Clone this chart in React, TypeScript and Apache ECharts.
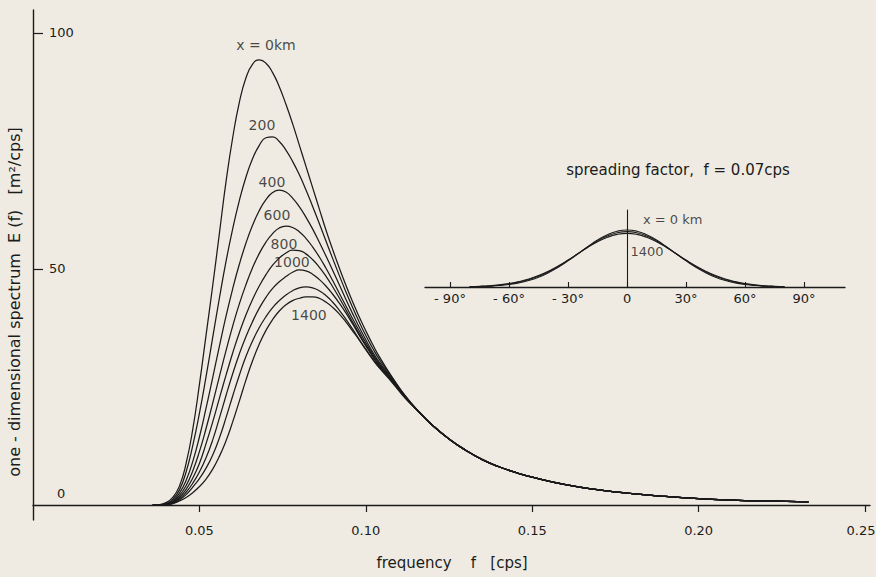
import React, { useEffect, useRef } from 'react';
import * as echarts from 'echarts';

// ---- main chart data: frequency [cps] vs E(f) [m^2/cps] ----
const FREQ_PEAK = [
  0.036, 0.038, 0.040, 0.042, 0.044, 0.046, 0.048, 0.050, 0.052, 0.054, 0.056, 0.058,
  0.060, 0.062, 0.064, 0.066, 0.068, 0.070, 0.072, 0.074, 0.076, 0.078, 0.080, 0.082,
  0.084, 0.086, 0.088, 0.090, 0.092, 0.094, 0.096, 0.098, 0.100, 0.102, 0.104, 0.108, 0.112,
];
const FREQ_TAIL = [
  0.116, 0.120, 0.125, 0.130, 0.135, 0.140, 0.145, 0.150, 0.160, 0.170,
  0.180, 0.190, 0.200, 0.210, 0.220, 0.233,
];
const E_TAIL = [19.7, 16.9, 14.0, 11.6, 9.6, 8.1, 6.9, 5.9, 4.3, 3.2, 2.4, 1.8, 1.35, 1.05, 0.85, 0.65];

const E_X0 = [0, 0.1, 0.5, 1.6, 4.0, 8.8, 16.0, 25.5, 36.0, 46.5, 57.5, 68.5, 77.8, 85.3, 90.5, 93.4, 94.3, 93.6, 91.6, 88.6, 84.9, 80.8, 76.3, 71.8, 67.3, 62.8, 58.3, 54.2, 50.3, 46.6, 43.1, 39.9, 36.9, 34.1, 31.5, 27.0, 23.0];
const E_X200 = [0, 0.05, 0.3, 1.2, 3.2, 7.0, 12.6, 19.4, 27.2, 35.5, 43.8, 51.6, 58.5, 64.5, 69.5, 73.4, 76.2, 77.8, 78.0, 77.0, 75.2, 72.8, 70.0, 66.8, 63.3, 59.7, 56.0, 52.3, 48.7, 45.2, 41.9, 38.8, 35.9, 33.3, 30.9, 26.9, 22.95];
const E_X400 = [0, 0, 0.2, 0.9, 2.5, 5.2, 9.2, 14.4, 20.5, 27.0, 33.6, 40.0, 45.8, 51.0, 55.5, 59.3, 62.4, 64.7, 66.2, 66.7, 66.3, 65.0, 63.2, 61.0, 58.5, 55.7, 52.8, 49.8, 46.7, 43.6, 40.6, 37.7, 35.0, 32.5, 30.3, 26.7, 22.9];
const E_X600 = [0, 0, 0.15, 0.7, 2.0, 4.1, 7.2, 11.3, 16.2, 21.6, 27.2, 32.7, 37.9, 42.6, 46.7, 50.3, 53.3, 55.7, 57.5, 58.7, 59.1, 58.8, 57.9, 56.5, 54.7, 52.6, 50.2, 47.6, 44.9, 42.2, 39.5, 36.9, 34.4, 32.1, 30.0, 26.5, 22.85];
const E_X800 = [0, 0, 0.1, 0.55, 1.6, 3.3, 5.7, 8.8, 13.0, 17.6, 22.6, 27.5, 32.2, 36.5, 40.3, 43.6, 46.4, 48.8, 50.8, 52.3, 53.4, 54.0, 53.9, 53.2, 52.0, 50.4, 48.5, 46.3, 43.9, 41.4, 38.8, 36.3, 33.9, 31.7, 29.7, 26.3, 22.8];
const E_X1000 = [0, 0, 0.08, 0.45, 1.3, 2.7, 4.6, 7.0, 10.0, 13.8, 18.4, 23.2, 27.8, 32.0, 35.7, 38.9, 41.7, 44.0, 45.9, 47.3, 48.4, 49.3, 49.8, 49.6, 48.9, 47.8, 46.4, 44.7, 42.8, 40.7, 38.4, 36.0, 33.7, 31.5, 29.5, 26.2, 22.7];
const E_X1200 = [0, 0, 0.06, 0.35, 1.05, 2.2, 3.8, 5.6, 7.8, 10.6, 14.2, 18.5, 23.1, 27.5, 31.5, 34.8, 37.6, 39.9, 41.8, 43.3, 44.5, 45.4, 46.0, 46.2, 46.0, 45.4, 44.4, 43.0, 41.3, 39.4, 37.3, 35.1, 33.0, 31.0, 29.2, 26.0, 22.6];
const E_X1400 = [0, 0, 0.05, 0.3, 0.85, 1.6, 2.6, 3.9, 5.5, 7.6, 10.3, 13.6, 17.6, 22.0, 26.5, 30.6, 34.1, 37.0, 39.3, 41.1, 42.4, 43.3, 43.8, 44.1, 44.1, 43.8, 43.0, 41.9, 40.5, 38.8, 36.9, 35.0, 32.9, 30.9, 29.1, 25.9, 22.5];

const CURVES = [E_X0, E_X200, E_X400, E_X600, E_X800, E_X1000, E_X1200, E_X1400];

// curve labels (text, frequency, E)
const LABEL_TEXT = ['x = 0km', '200', '400', '600', '800', '1000', '1400'];
const LABEL_F = [0.0700, 0.0688, 0.0718, 0.0733, 0.0754, 0.0778, 0.0829];
const LABEL_E = [97.5, 80.5, 68.4, 61.4, 55.3, 51.5, 40.3];

const X_TICKS = [0.05, 0.10, 0.15, 0.20, 0.25];
const Y_TICKS = [50, 100];
const Y_LABELS = [0, 50, 100];

// ---- inset: spreading factor at f = 0.07 cps ----
const THETA = [-80, -75, -70, -65, -60, -55, -50, -45, -40, -35, -30, -25, -20, -15, -10, -5, 0, 5, 10, 15, 20, 25, 30, 35, 40, 45, 50, 55, 60, 65, 70, 75, 80];
const S_X0 = [0.004, 0.008, 0.014, 0.025, 0.044, 0.072, 0.114, 0.172, 0.249, 0.345, 0.458, 0.581, 0.707, 0.823, 0.917, 0.979, 1.0, 0.979, 0.917, 0.823, 0.707, 0.581, 0.458, 0.345, 0.249, 0.172, 0.114, 0.072, 0.044, 0.025, 0.014, 0.008, 0.004];
const S_MID = [0.005, 0.010, 0.018, 0.031, 0.052, 0.083, 0.128, 0.187, 0.264, 0.358, 0.467, 0.584, 0.701, 0.808, 0.894, 0.951, 0.97, 0.951, 0.894, 0.808, 0.701, 0.584, 0.467, 0.358, 0.264, 0.187, 0.128, 0.083, 0.052, 0.031, 0.018, 0.010, 0.005];
const S_X1400 = [0.007, 0.013, 0.022, 0.038, 0.061, 0.094, 0.140, 0.201, 0.278, 0.370, 0.473, 0.583, 0.693, 0.792, 0.871, 0.922, 0.94, 0.922, 0.871, 0.792, 0.693, 0.583, 0.473, 0.370, 0.278, 0.201, 0.140, 0.094, 0.061, 0.038, 0.022, 0.013, 0.007];
const INSET_CURVES = [S_X0, S_MID, S_X1400];
const INSET_TICKS = [-90, -60, -30, 0, 30, 60, 90];
const INSET_LABEL_TEXT = ['x = 0 km', '1400'];
const INSET_LABEL_T = [23.2, 10.2];
const INSET_LABEL_V = [1.175, 0.614];

const INK = '#1b1b1b';
const BG = '#efebe2';
const FONT = '"DejaVu Sans", "Liberation Sans", sans-serif';

export default function App() {
  const ref = useRef<HTMLDivElement>(null);

  useEffect(() => {
    if (!ref.current) return;
    const chart = echarts.init(ref.current, null, { renderer: 'svg' });
    const freqs = [...FREQ_PEAK, ...FREQ_TAIL];
    const build = (vals: number[]) =>
      freqs.map((f, i) => [f, i < vals.length ? vals[i] : E_TAIL[i - vals.length]]);

    const mainSeries = CURVES.map((vals) => ({
      type: 'line',
      xAxisIndex: 0,
      yAxisIndex: 0,
      data: build(vals),
      smooth: 0.5,
      showSymbol: false,
      silent: true,
      lineStyle: { color: INK, width: 1.25 },
    }));

    const insetSeries = INSET_CURVES.map((vals) => ({
      type: 'line',
      xAxisIndex: 1,
      yAxisIndex: 1,
      data: THETA.map((t, i) => [t, vals[i]]),
      smooth: 0.5,
      showSymbol: false,
      silent: true,
      lineStyle: { color: INK, width: 1.1 },
    }));

    const labelStyle = { show: true, position: 'inside', color: INK, fontFamily: FONT, fontSize: 14 };

    const option: any = {
      animation: false,
      backgroundColor: BG,
      grid: [
        { left: 33, top: 10, width: 837, height: 510, outerBoundsMode: 'none', containLabel: false },
        { left: 425, top: 210, width: 420, height: 77, outerBoundsMode: 'none', containLabel: false },
      ],
      xAxis: [
        {
          type: 'value',
          gridIndex: 0,
          min: 0,
          max: 0.2515,
          axisLine: { show: true, onZero: true, lineStyle: { color: INK, width: 1.4 } },
          axisTick: { show: true, inside: false, length: 7, customValues: X_TICKS, lineStyle: { color: INK, width: 1.2 } },
          axisLabel: {
            show: true,
            customValues: X_TICKS,
            formatter: (v: number) => (v > 0.24 ? '{e|' + v.toFixed(2) + '}' : v.toFixed(2)),
            margin: 4,
            color: INK,
            fontFamily: FONT,
            fontSize: 13,
            rich: { e: { padding: [0, 8, 0, 0], color: INK, fontFamily: FONT, fontSize: 13 } },
          },
          splitLine: { show: false },
        },
        {
          type: 'value',
          gridIndex: 1,
          min: -102.7,
          max: 110.8,
          axisLine: { show: true, onZero: true, lineStyle: { color: INK, width: 1.3 } },
          axisTick: { show: true, inside: true, length: 5, customValues: INSET_TICKS, lineStyle: { color: INK, width: 1.1 } },
          axisLabel: {
            show: true,
            customValues: INSET_TICKS,
            formatter: (v: number) => (v < 0 ? '- ' + Math.abs(v) + '°' : v === 0 ? '0' : v + '°'),
            margin: 5,
            color: INK,
            fontFamily: FONT,
            fontSize: 13,
          },
          splitLine: { show: false },
        },
      ],
      yAxis: [
        {
          type: 'value',
          gridIndex: 0,
          min: -3.18,
          max: 104.87,
          axisLine: { show: true, onZero: true, lineStyle: { color: INK, width: 1.4 } },
          axisTick: { show: true, inside: true, length: 10, customValues: Y_TICKS, lineStyle: { color: INK, width: 1.2 } },
          axisLabel: {
            show: true,
            inside: true,
            margin: 16,
            customValues: Y_LABELS,
            formatter: (v: number) => (v === 0 ? '{z|0}' : String(v)),
            color: INK,
            fontFamily: FONT,
            fontSize: 13,
            rich: { z: { padding: [0, 0, 23, 8], color: INK, fontFamily: FONT, fontSize: 13 } },
          },
          splitLine: { show: false },
        },
        {
          type: 'value',
          gridIndex: 1,
          min: 0,
          max: 1.35,
          axisLine: { show: true, onZero: true, lineStyle: { color: INK, width: 1.1 } },
          axisTick: { show: false },
          axisLabel: { show: false },
          splitLine: { show: false },
        },
      ],
      series: [
        ...mainSeries,
        ...insetSeries,
        {
          type: 'scatter',
          xAxisIndex: 0,
          yAxisIndex: 0,
          symbolSize: 1,
          silent: true,
          itemStyle: { color: 'rgba(0,0,0,0)' },
          data: LABEL_TEXT.map((t, i) => [LABEL_F[i], LABEL_E[i], t]),
          label: { ...labelStyle, formatter: (p: any) => p.data[2] },
        },
        {
          type: 'scatter',
          xAxisIndex: 1,
          yAxisIndex: 1,
          symbolSize: 1,
          silent: true,
          itemStyle: { color: 'rgba(0,0,0,0)' },
          data: INSET_LABEL_TEXT.map((t, i) => [INSET_LABEL_T[i], INSET_LABEL_V[i], t]),
          label: { ...labelStyle, fontSize: 13, formatter: (p: any) => p.data[2] },
        },
      ],
      graphic: [
        {
          type: 'text',
          x: 14,
          y: 302,
          rotation: Math.PI / 2,
          style: {
            text: 'one - dimensional spectrum  E (f)   [m²/cps]',
            fill: INK,
            font: `16px ${FONT}`,
            textAlign: 'center',
            textVerticalAlign: 'middle',
          },
        },
        {
          type: 'text',
          x: 452,
          y: 563,
          style: {
            text: 'frequency    f   [cps]',
            fill: INK,
            font: `15px ${FONT}`,
            textAlign: 'center',
            textVerticalAlign: 'middle',
          },
        },
        {
          type: 'text',
          x: 678,
          y: 170,
          style: {
            text: 'spreading factor,  f = 0.07cps',
            fill: INK,
            font: `15px ${FONT}`,
            textAlign: 'center',
            textVerticalAlign: 'middle',
          },
        },
      ],
    };

    chart.setOption(option);
    return () => chart.dispose();
  }, []);

  return <div ref={ref} style={{ position: 'fixed', left: 0, top: 0, width: 876, height: 577 }} />;
}
